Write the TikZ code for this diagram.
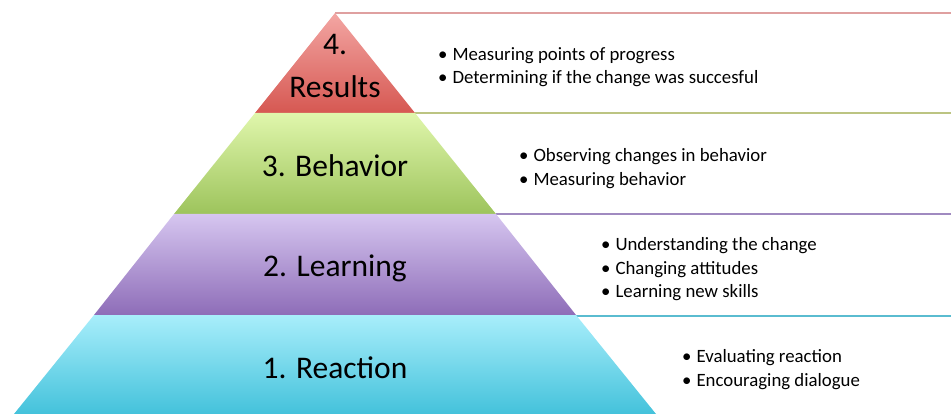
\documentclass[tikz,border=0pt]{standalone}
\usepackage{fontspec}
\setmainfont{Carlito}
\usetikzlibrary{positioning}

\definecolor{resTop}{HTML}{F3A6A3}
\definecolor{resBot}{HTML}{D65852}
\definecolor{resLine}{HTML}{DFA0A0}
\definecolor{behTop}{HTML}{E0F6AC}
\definecolor{behBot}{HTML}{9DC45C}
\definecolor{behLine}{HTML}{BCC482}
\definecolor{lrnTop}{HTML}{D6C6F0}
\definecolor{lrnBot}{HTML}{8E6DB8}
\definecolor{lrnLine}{HTML}{A08AC0}
\definecolor{reaTop}{HTML}{A8EEFB}
\definecolor{reaBot}{HTML}{44C2DB}
\definecolor{reaLine}{HTML}{5ABCD0}

\begin{document}
\begin{tikzpicture}[x=1pt,y=-1pt]
\tikzstyle{level} = [font=\fontsize{31.5}{43}\selectfont, align=center]
\tikzstyle{bullets} = [font=\fontsize{18.8}{23.5}\selectfont, align=left, anchor=west, inner sep=0pt]
\tikzstyle{panel} = [line width=2pt]
\newcommand{\bul}{\textbullet\hspace{5pt}}
\useasboundingbox (0,0) rectangle (951,414);

%panel borders
\draw[panel, draw=resLine] (335,13.5) -- (960,13.5);
\draw[panel, draw=behLine] (415,113.5) -- (960,113.5);
\draw[panel, draw=lrnLine] (496,214.5) -- (960,214.5);
\draw[panel, draw=reaLine] (576,315.5) -- (960,315.5);

%pyramid
\shade[top color=resTop, bottom color=resBot] (335,13) -- (415,113) -- (255,113) -- cycle;
\shade[top color=behTop, bottom color=behBot] (255,113) -- (415,113) -- (496,214) -- (174,214) -- cycle;
\shade[top color=lrnTop, bottom color=lrnBot] (174,214) -- (496,214) -- (576,315) -- (94,315) -- cycle;
\shade[top color=reaTop, bottom color=reaBot] (94,315) -- (576,315) -- (656,414) -- (14,414) -- cycle;

\node[level] (results) at (335,66) {4.\\Results};
\node[level] (behavior) at (335,166) {3. Behavior};
\node[level] (learning) at (335,268) {2. Learning};
\node[level] (reaction) at (335,368) {1. Reaction};

\node[bullets] (resList) at (438,67) {\bul Measuring points of progress\\
    \bul Determining if the change was succesful};
\node[bullets] (behList) at (519,168.5) {\bul Observing changes in behavior\\
    \bul Measuring behavior};
\node[bullets] (lrnList) at (601,269.5) {\bul Understanding the change\\
    \bul Changing attitudes\\
    \bul Learning new skills};
\node[bullets] (reaList) at (682,369.5) {\bul Evaluating reaction\\
    \bul Encouraging dialogue};
\end{tikzpicture}
\end{document}
